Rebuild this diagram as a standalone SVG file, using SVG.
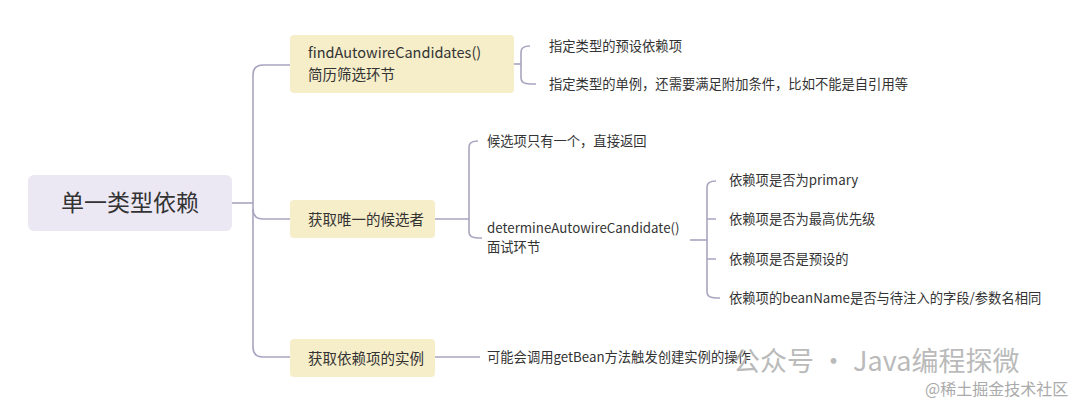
<svg xmlns="http://www.w3.org/2000/svg" width="1080" height="406" viewBox="0 0 1080 406">
<style>
text{font-family:"Noto Sans CJK SC","Noto Sans",sans-serif;fill:#333;}
.s{font-size:13.3px}
.m{font-size:14.5px}
.b{fill:#f6edc9}
.c{fill:none;stroke:#a8a5c0;stroke-width:1.6}
</style>
<rect width="1080" height="406" fill="#fff"/>
<g id="connectors" class="c">
<path d="M232,203 H253"/>
<path d="M290,65 H263 Q253,65 253,75 V347 Q253,357 263,357 H290"/>
<path d="M253,209 Q253,219 263,219 H290"/>
<path d="M514,64 H521"/>
<path d="M530,46 Q521,46 521,52 V78 Q521,84 530,84 H536"/>
<path d="M435,219 H469"/>
<path d="M478,141 Q469,141 469,147 V232 Q469,238 478,238 H482"/>
<path d="M690,240 H707"/>
<path d="M716,181 Q707,181 707,187 V292 Q707,298 716,298 H720"/>
<path d="M707,219 H716 M707,259 H716"/>
<path d="M435,357 H480"/>
</g>
<g id="root"><rect x="28" y="175" width="204" height="56" rx="6" fill="#ebe8f3"/><text x="130" y="211" font-size="23" text-anchor="middle">单一类型依赖</text></g>
<g id="n1"><rect class="b" x="290" y="35" width="224" height="58" rx="4"/><text x="308" y="58" class="m">findAutowireCandidates()</text><text x="308" y="80" class="m">简历筛选环节</text></g>
<g id="n2"><rect class="b" x="290" y="200" width="145" height="38" rx="4"/><text x="308" y="225" class="m">获取唯一的候选者</text></g>
<g id="n3"><rect class="b" x="290" y="339" width="145" height="38" rx="4"/><text x="308" y="364" class="m">获取依赖项的实例</text></g>
<g id="l1"><text x="549" y="51" class="s">指定类型的预设依赖项</text></g>
<g id="l2"><text x="549" y="89" class="s">指定类型的单例，还需要满足附加条件，比如不能是自引用等</text></g>
<g id="l3"><text x="487" y="146" class="s">候选项只有一个，直接返回</text></g>
<g id="l4"><text x="487" y="233" class="s">determineAutowireCandidate()</text><text x="487" y="252" class="s">面试环节</text></g>
<g id="l5"><text x="729" y="185" class="s">依赖项是否为primary</text></g>
<g id="l6"><text x="729" y="224" class="s">依赖项是否为最高优先级</text></g>
<g id="l7"><text x="729" y="264" class="s">依赖项是否是预设的</text></g>
<g id="l8"><text x="729" y="303" class="s">依赖项的beanName是否与待注入的字段/参数名相同</text></g>
<g id="l9"><text x="487" y="362" class="s">可能会调用getBean方法触发创建实例的操作</text></g>
<g id="wm"><text x="733" y="371" font-size="27" style="fill:#aaa;opacity:.8">公众号 · Java编程探微</text><text x="925" y="395" font-size="16" style="fill:#aaa">@稀土掘金技术社区</text></g>
</svg>
